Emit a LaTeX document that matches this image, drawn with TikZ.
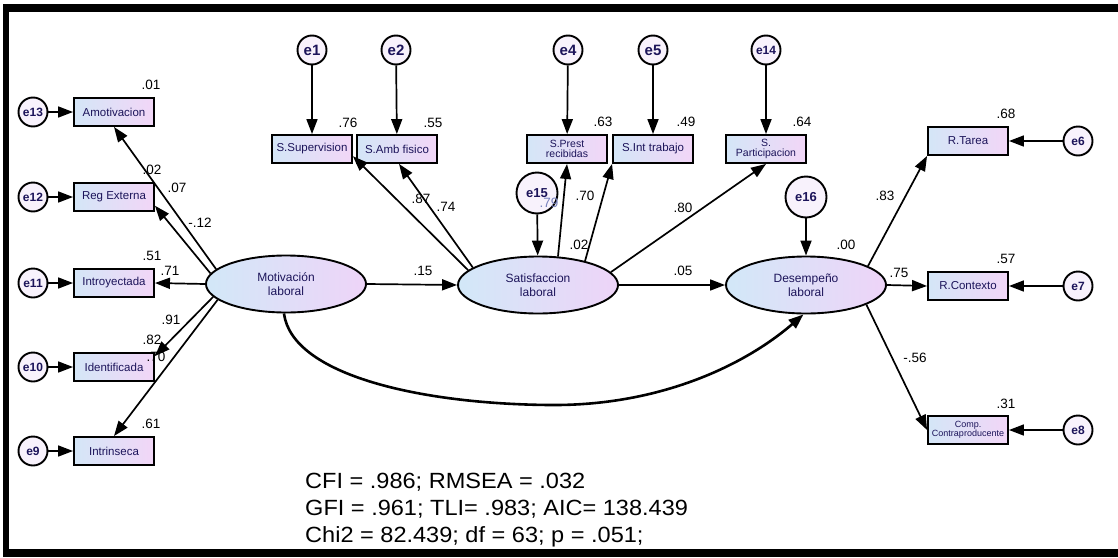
\documentclass[tikz,border=0pt]{standalone}
\usepackage{fontspec}
\setmainfont{Liberation Sans}
\usetikzlibrary{shapes.geometric,arrows.meta}
\definecolor{boxL}{RGB}{212,230,247}
\definecolor{boxR}{RGB}{242,214,247}
\definecolor{ellL}{RGB}{210,232,248}
\definecolor{ellR}{RGB}{238,212,248}
\definecolor{txt}{RGB}{28,20,90}
\definecolor{errfill}{RGB}{248,242,252}
\definecolor{faint}{RGB}{120,130,190}
\tikzset{
  obs/.style={draw, line width=1.9pt, minimum width=80pt, minimum height=28pt, inner sep=0pt,
    left color=boxL, right color=boxR, text=txt, align=center, font=\fontsize{11.5}{11.5}\selectfont},
  obstwo/.style={obs, font=\fontsize{10.5}{9.5}\selectfont},
  lat/.style={ellipse, draw, line width=1.9pt, minimum width=160pt, minimum height=57pt, inner sep=0pt,
    left color=ellL, right color=ellR, text=txt, align=center, font=\fontsize{12}{13.5}\selectfont},
  err/.style={circle, draw, line width=1.9pt, minimum size=29pt, inner sep=0pt, fill=errfill,
    text=txt, font=\bfseries\fontsize{12}{12}\selectfont},
  errbig/.style={err, font=\bfseries\fontsize{15}{15}\selectfont},
  errlarge/.style={err, minimum size=41pt, font=\bfseries\fontsize{13}{13}\selectfont},
  arr/.style={-{Triangle[length=15pt,width=11pt]}, line width=1.7pt},
  num/.style={font=\fontsize{13.5}{13.5}\selectfont, inner sep=0pt},
  fit/.style={font=\fontsize{22}{22}\selectfont, inner sep=0pt, anchor=base west}
}
\begin{document}
\begin{tikzpicture}[x=1pt,y=-1pt]
\useasboundingbox (0,0) rectangle (1118,557);
\fill[white] (0,0) rectangle (1118,557);
% frame
\fill[black] (3,4) rectangle (1118,12);
\fill[black] (3,4) rectangle (9,557);
\fill[black] (3,549) rectangle (1118,557);

% latent variables
\node[lat] (mot) at (286,284) {Motivación\\laboral};
\node[lat] (sat) at (538,285) {Satisfaccion\\laboral};
\node[lat] (des) at (806,285) {Desempeño\\laboral};

% left indicators
\node[obs] (amot) at (114,112) {Amotivacion};
\node[obs] (reg) at (114,197) {Reg Externa};
\node[obs] (intro) at (114,283) {Introyectada};
\node[obs] (ident) at (114,367) {Identificada};
\node[obs] (intr) at (114,451) {Intrinseca};
\node[err] (e13) at (33,112) {e13};
\node[err] (e12) at (33,197) {e12};
\node[err] (e11) at (33,283) {e11};
\node[err] (e10) at (33,367) {e10};
\node[err] (e9) at (33,451) {e9};

% top indicators
\node[obs] (ssup) at (312,149) {S.Supervision};
\node[obs] (samb) at (397,149) {S.Amb fisico};
\node[obstwo] (sprest) at (567,149) {S.Prest\\recibidas};
\node[obs] (sint) at (653,149) {S.Int trabajo};
\node[obstwo] (spart) at (766,149) {S.\\Participacion};
\node[errbig] (e1) at (312,50) {e1};
\node[errbig] (e2) at (396,50) {e2};
\node[errbig] (e4) at (568,50) {e4};
\node[errbig] (e5) at (653,50) {e5};
\node[err] (e14) at (766,50) {e14};
\node[errlarge] (e15) at (537,193) {e15};
\node[errlarge] (e16) at (806,197) {e16};

% right indicators
\node[obs] (rtar) at (968,141) {R.Tarea};
\node[obs] (rcon) at (968,286) {R.Contexto};
\node[obs, font=\fontsize{9}{8.5}\selectfont] (comp) at (968,430) {Comp.\\Contraproducente};
\node[err] (e6) at (1078,141) {e6};
\node[err] (e7) at (1078,286) {e7};
\node[err] (e8) at (1078,430) {e8};

\node[num] (l70b) at (156,357) {.70};

% error arrows
\foreach \e/\b in {e13/amot,e12/reg,e11/intro,e10/ident,e9/intr,e1/ssup,e2/samb,e4/sprest,e5/sint,e14/spart,e6/rtar,e7/rcon,e8/comp,e15/sat,e16/des}
  \draw[arr] (\e) -- (\b);

% structural arrows
\draw[arr] (mot.168) -- (amot.south);
\draw[arr] (mot.172) -- (reg.-12);
\draw[arr] (mot.west) -- (intro.east);
\draw[arr] (mot.190) -- (ident.15);
\draw[arr] (mot.193) -- (intr.north);
\draw[arr] (sat.168) -- (ssup.-10);
\draw[arr] (sat.165) -- ([xshift=2pt]samb.south);
\draw[arr] (sat.55) -- (sprest.south);
\draw[arr] (sat.27) -- (sint.south west);
\draw[arr] (sat.10) -- (spart.south);
\draw[arr] (mot.east) -- (sat.west);
\draw[arr] (sat.east) -- (des.west);
\draw[arr] (des.17) -- (rtar.south west);
\draw[arr] (des.east) -- (rcon.west);
\draw[arr] (des.-18) -- (comp.west);
\draw[-{Triangle[length=15pt,width=11pt]}, line width=2.6pt]
  (mot.266) .. controls (292,375) and (420,404) .. (550,405)
  coordinate (cbot) .. controls (660,406) and (745,365) .. (des.265);

% coefficients
\node[num] at (151,85) {.01};
\node[num] at (152,170) {.02};
\node[num] at (177,188) {.07};
\node[num] at (200,223) {-.12};
\node[num] at (152,256) {.51};
\node[num] at (170,271) {.71};
\node[num] at (171,320) {.91};
\node[num] at (152,340) {.82};
\node[num] at (151,424) {.61};
\node[num] at (348,123) {.76};
\node[num] at (433,123) {.55};
\node[num] at (603,122) {.63};
\node[num] at (686,122) {.49};
\node[num] at (802,122) {.64};
\node[num] at (421,199) {.87};
\node[num] at (446,207) {.74};
\node[num, text=faint] at (549,203) {.79};
\node[num] at (585,196) {.70};
\node[num] at (579,245) {.02};
\node[num] at (683,208) {.80};
\node[num] at (423,271) {.15};
\node[num] at (683,271) {.05};
\node[num] at (846,245) {.00};
\node[num] at (885,196) {.83};
\node[num] at (899,273) {.75};
\node[num] at (1006,114) {.68};
\node[num] at (1006,259) {.57};
\node[num] at (915,358) {-.56};
\node[num] at (1006,404) {.31};

% fit indices
\node[fit] (f1) at (305,488) {\scalebox{1.07}[1]{CFI = .986; RMSEA = .032}};
\node[fit] (f2) at (305,515) {\scalebox{1.07}[1]{GFI = .961; TLI= .983; AIC= 138.439}};
\node[fit] (f3) at (305,542) {\scalebox{1.07}[1]{Chi2 = 82.439; df = 63; p = .051;}};
\end{tikzpicture}
\end{document}
